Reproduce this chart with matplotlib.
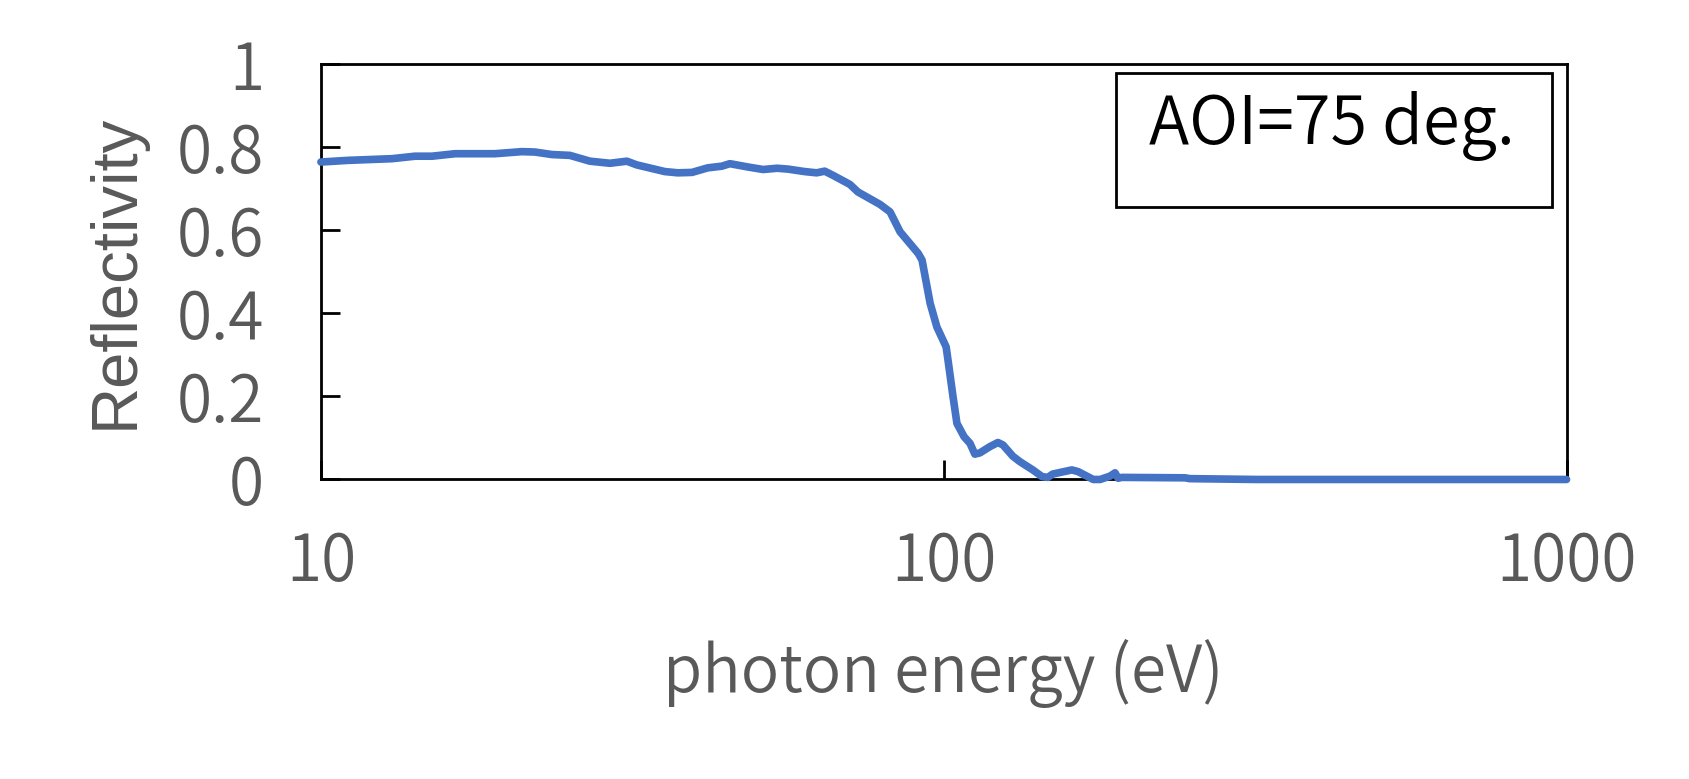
import matplotlib
matplotlib.use("Agg")
import matplotlib.pyplot as plt
from matplotlib.patches import Rectangle
from matplotlib.ticker import FixedLocator, FixedFormatter, NullLocator

# ---- data ----
energy_eV = [10.0, 11.05, 13.0, 14.16, 15.08, 16.42, 19.02, 21.03, 22.07, 23.49,
             25.1, 27.04, 29.11, 30.99, 32.16, 35.66, 37.42, 39.43, 41.8, 44.03,
             45.36, 48.5, 51.3, 54.0, 56.2, 59.8, 62.5, 64.4, 66.4, 70.7,
             72.8, 79.0, 82.0, 85.1, 91.0, 92.3, 95.1, 97.5, 100.9, 101.6,
             103.5, 105.0, 107.8, 110.2, 112.2, 114.3, 118.6, 122.2, 124.5, 129.1,
             132.5, 139.0, 143.8, 146.9, 149.6, 160.6, 164.3, 173.8, 178.3, 184.9,
             188.4, 190.5, 193.2, 243.9, 248.4, 318.4, 1000.0]
reflectivity = [0.764, 0.768, 0.772, 0.778, 0.778, 0.784, 0.784, 0.789, 0.788, 0.782,
                0.780, 0.766, 0.761, 0.766, 0.757, 0.741, 0.738, 0.739, 0.750, 0.754,
                0.760, 0.752, 0.746, 0.749, 0.747, 0.741, 0.738, 0.742, 0.732, 0.710,
                0.692, 0.662, 0.644, 0.596, 0.544, 0.528, 0.424, 0.367, 0.319, 0.287,
                0.199, 0.135, 0.103, 0.087, 0.061, 0.064, 0.079, 0.089, 0.083, 0.056,
                0.043, 0.023, 0.007, 0.005, 0.013, 0.023, 0.019, 0.000, 0.000, 0.008,
                0.016, 0.003, 0.005, 0.004, 0.002, 0.000, 0.000]

x_ticks = [10, 100, 1000]
x_tick_labels = ["10", "100", "1000"]
y_ticks = [0, 0.2, 0.4, 0.6, 0.8, 1.0]
y_tick_labels = ["0", "0.2", "0.4", "0.6", "0.8", "1"]

x_label = "photon energy (eV)"
y_label = "Reflectivity"
annotation = "AOI=75 deg."

# ---- style ----
GRAY = "#595959"
BLUE = "#4472C4"
TICK_FONT = ["Noto Sans CJK JP", "DejaVu Sans"]
WEIGHT = 350

fig = plt.figure(figsize=(16.89, 7.79), dpi=100)
ax = fig.add_axes([0.190, 0.3845, 0.7375, 0.5334])

ax.plot(energy_eV, reflectivity, color=BLUE, lw=5.5, solid_capstyle="round",
        solid_joinstyle="round", clip_on=False, zorder=5)

ax.set_xscale("log")
ax.set_xlim(10, 1000)
ax.set_ylim(0, 1)

ax.xaxis.set_major_locator(FixedLocator(x_ticks))
ax.xaxis.set_major_formatter(FixedFormatter(x_tick_labels))
ax.xaxis.set_minor_locator(NullLocator())
ax.yaxis.set_major_locator(FixedLocator(y_ticks))
ax.yaxis.set_major_formatter(FixedFormatter(y_tick_labels))

for s in ax.spines.values():
    s.set_linewidth(2.0)
    s.set_color("black")

ax.tick_params(axis="both", which="major", direction="in", length=13.5, width=2.0,
               color="black", labelcolor=GRAY, labelsize=46)
ax.tick_params(axis="y", pad=41)
ax.tick_params(axis="x", pad=36)
for lab in ax.get_xticklabels() + ax.get_yticklabels():
    lab.set_fontfamily(TICK_FONT)
    lab.set_fontweight(WEIGHT)

ax.set_xlabel(x_label, fontsize=46, color=GRAY, family=TICK_FONT, fontweight=WEIGHT,
              va="baseline")
ax.xaxis.set_label_coords(0.5, -0.511)
ax.set_ylabel(y_label, fontsize=47, color=GRAY, family=["Liberation Sans", "DejaVu Sans"],
              va="baseline")
ax.yaxis.set_label_coords(-0.151, 0.5)

# annotation box
ax.add_patch(Rectangle((0.638, 0.656), 0.350, 0.322, transform=ax.transAxes,
                       fill=False, edgecolor="black", lw=2.0, zorder=6))
ax.text(0.812, 0.807, annotation, transform=ax.transAxes, ha="center", va="baseline",
        fontsize=48, color="black", family=TICK_FONT, fontweight=WEIGHT, zorder=7)

fig.savefig("out.png", dpi=100)
